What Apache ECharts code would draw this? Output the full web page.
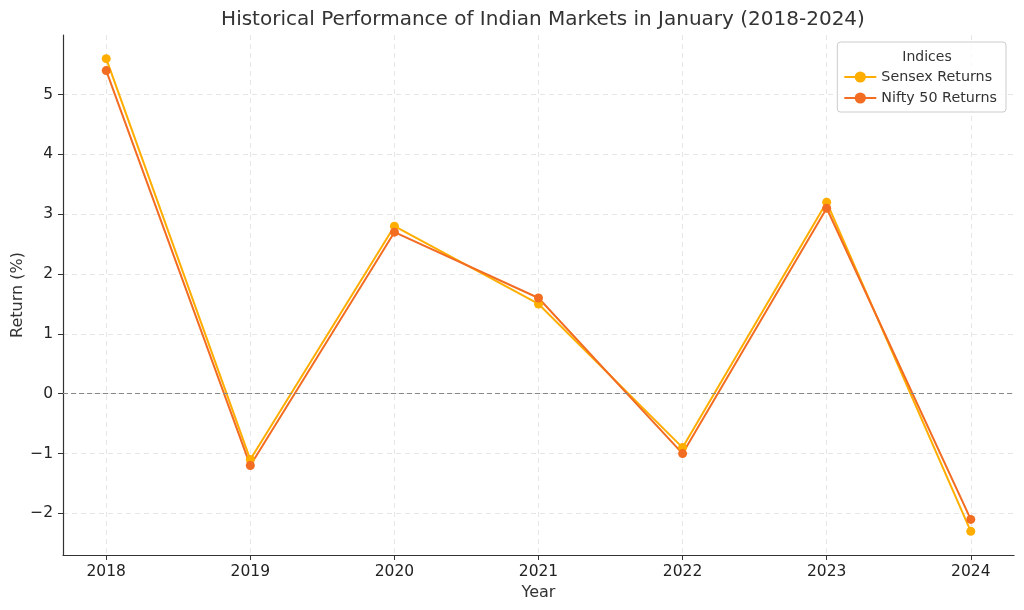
<!DOCTYPE html>
<html>
<head>
<meta charset="utf-8">
<script src="https://cdn.jsdelivr.net/npm/echarts@6/dist/echarts.min.js"></script>
<style>
    html, body { margin: 0; padding: 0; background: #fff; }
    #chart { width: 1024px; height: 610px; }
</style>
</head>
<body>
<div id="chart"></div>
<script>
const years = [2018, 2019, 2020, 2021, 2022, 2023, 2024];
const sensexReturns = [5.6, -1.1, 2.8, 1.5, -0.9, 3.2, -2.3];
const niftyReturns = [5.4, -1.2, 2.7, 1.6, -1.0, 3.1, -2.1];
const yTicks = [-2, -1, 0, 1, 2, 3, 4, 5];

const font = 'DejaVu Sans';
const chart = echarts.init(document.getElementById('chart'));

const pairs = (vals) => years.map((y, i) => [y, vals[i]]);

const option = {
    animation: false,
    textStyle: { fontFamily: font },
    title: [
        {
            text: 'Historical Performance of Indian Markets in January (2018-2024)',
            left: 538,
            top: 5,
            textAlign: 'center',
            textStyle: { fontFamily: font, fontSize: 20, fontWeight: 'normal', color: '#333' },
        },
        {
            text: 'Indices',
            left: 922,
            top: 45,
            textAlign: 'center',
            textStyle: { fontFamily: font, fontSize: 14, fontWeight: 'normal', color: '#333' },
        },
    ],
    legend: {
        orient: 'vertical',
        right: 18,
        top: 42,
        padding: [28, 9, 7, 6],
        itemGap: 7,
        itemWidth: 32,
        itemHeight: 14,
        backgroundColor: 'rgba(255,255,255,0.8)',
        borderColor: '#ccc',
        borderWidth: 1,
        borderRadius: 3,
        textStyle: { fontFamily: font, fontSize: 14.3, color: '#333' },
        data: ['Sensex Returns', 'Nifty 50 Returns'],
    },
    grid: { left: 63, right: 10, top: 35, bottom: 55, outerBoundsMode: 'none', containLabel: false },
    xAxis: {
        type: 'value',
        min: 2017.7,
        max: 2024.3,
        name: 'Year',
        nameLocation: 'middle',
        nameGap: 29,
        nameTextStyle: { fontFamily: font, fontSize: 16, color: '#333' },
        axisLine: { show: true, onZero: false, lineStyle: { color: '#333', width: 1.2 } },
        axisTick: { show: true, length: 5, customValues: years, lineStyle: { color: '#333' } },
        axisLabel: {
            customValues: years,
            fontFamily: font,
            fontSize: 15.5,
            color: '#222',
            margin: 9,
            formatter: (v) => String(v),
        },
        splitLine: { show: true, lineStyle: { color: '#e6e6e6', type: [5, 4] } },
    },
    yAxis: {
        type: 'value',
        min: -2.695,
        max: 5.995,
        name: 'Return (%)',
        nameLocation: 'middle',
        nameGap: 37,
        nameMoveOverlap: false,
        nameTextStyle: { fontFamily: font, fontSize: 16, color: '#333' },
        axisLine: { show: true, onZero: false, lineStyle: { color: '#333', width: 1.2 } },
        axisTick: { show: true, length: 5, customValues: yTicks, lineStyle: { color: '#333' } },
        axisLabel: {
            customValues: yTicks,
            fontFamily: font,
            fontSize: 15.5,
            color: '#222',
            margin: 10,
            formatter: (v) => (v < 0 ? '\u2212' + Math.abs(v) : String(v)),
        },
        splitLine: { show: true, lineStyle: { color: '#e6e6e6', type: [5, 4] } },
    },
    series: [
        {
            name: 'Sensex Returns',
            type: 'line',
            data: pairs(sensexReturns),
            symbol: 'circle',
            symbolSize: 9,
            lineStyle: { color: '#FFAE00', width: 2 },
            itemStyle: { color: '#FFAE00' },
            markLine: {
                silent: true,
                symbol: 'none',
                label: { show: false },
                lineStyle: { color: '#888', type: [5, 3], width: 1 },
                data: [{ yAxis: 0 }],
            },
        },
        {
            name: 'Nifty 50 Returns',
            type: 'line',
            data: pairs(niftyReturns),
            symbol: 'circle',
            symbolSize: 9,
            lineStyle: { color: '#F26C21', width: 2 },
            itemStyle: { color: '#F26C21' },
        },
    ],
};

chart.setOption(option);
window.addEventListener('resize', () => chart.resize());
</script>
</body>
</html>
